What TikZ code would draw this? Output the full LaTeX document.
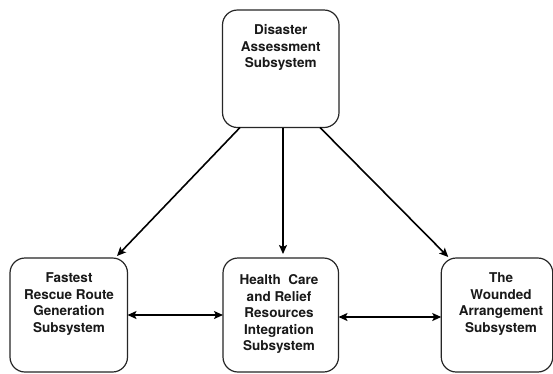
\documentclass[tikz,border=0pt]{standalone}
\usepackage{fontspec}
\setmainfont{TeX Gyre Heros}
\usetikzlibrary{arrows.meta}
\begin{document}
\begin{tikzpicture}[x=1pt,y=-1pt,
  box/.style={draw=black!85, line width=1.2pt, rounded corners=15pt, inner sep=0pt, outer sep=0pt},
  lbl/.style={font=\bfseries\fontsize{13.5}{16.5}\selectfont, align=center, anchor=north, inner sep=0pt, text=black!90},
  arr/.style={line width=1.6pt, -{Stealth[length=9pt,width=8pt,inset=2pt]}},
  darr/.style={line width=1.6pt, {Stealth[length=9pt,width=8pt,inset=2pt]}-{Stealth[length=9pt,width=8pt,inset=2pt]}}]
\useasboundingbox (0,0) rectangle (553,373);
\fill[white] (0,0) rectangle (553,373);
% boxes
\node[box, minimum width=116.5pt, minimum height=117.5pt] (top) at (280.75,68.75) {};
\node[box, minimum width=117.5pt, minimum height=114pt] (left) at (68.75,315) {};
\node[box, minimum width=115.5pt, minimum height=114pt] (mid) at (280.75,315) {};
\node[box, minimum width=111.5pt, minimum height=114pt] (right) at (497,315) {};
% texts
\node[lbl] (ttop) at (280.75,24.5) {Disaster\\Assessment\\Subsystem};
\node[lbl] (tleft) at (69,272.5) {Fastest\\Rescue Route\\Generation\\Subsystem};
\node[lbl] (tmid) at (279,274.5) {Health~~Care\\and Relief\\Resources\\Integration\\Subsystem};
\node[lbl] (tright) at (501,272.5) {The\\Wounded\\Arrangement\\Subsystem};
% connectors
\draw[arr] ([xshift=17.5pt]top.south west) -- ([xshift=-10.5pt,yshift=2pt]left.north east);
\draw[arr] ([xshift=2.25pt]top.south) -- ([xshift=2.25pt,yshift=4pt]mid.north);
\draw[arr] ([xshift=-19pt]top.south east) -- ([xshift=7pt,yshift=1pt]right.north west);
\draw[darr] (left.east) -- (mid.west);
\draw[darr] ([yshift=-2pt]mid.east) -- ([yshift=-2pt]right.west);
\end{tikzpicture}
\end{document}
